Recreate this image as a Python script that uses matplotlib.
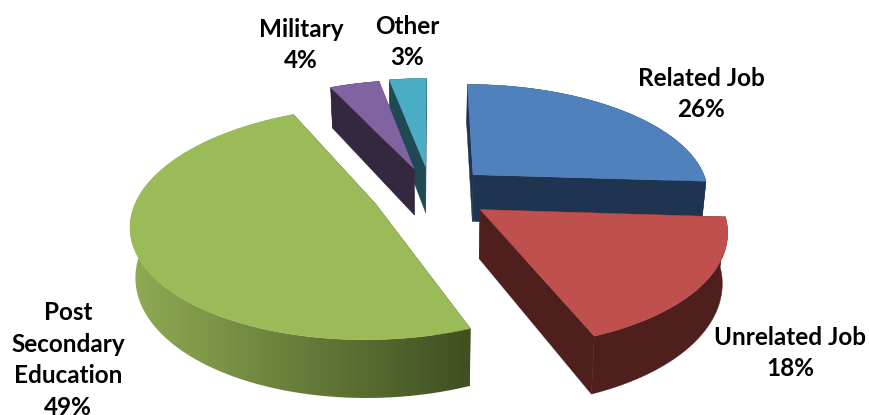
import numpy as np
import matplotlib
matplotlib.use("Agg")
import matplotlib.pyplot as plt
from matplotlib.colors import to_rgb
from matplotlib.patches import Polygon

# share of leavers per destination, clockwise from the top
labels = ["Related Job", "Unrelated Job", "Post\nSecondary\nEducation", "Military", "Other"]
shares = [26, 18, 49, 4, 3]

top_colors = ["#4f81bd", "#c0504d", "#9bbb59", "#8064a2", "#4bacc6"]
cut_colors = ["#1f3450", "#4f1f1e", "#3f4f20", "#34283f", "#1f4a54"]
rim_left = ["#1f3450", "#4f1f1e", "#8fab54", "#34283f", "#1f4a54"]
rim_right = ["#1f3450", "#4f1f1e", "#3f4f20", "#34283f", "#1f4a54"]
explode = [0.25, 0.25, 0.25, 0.24, 0.25]
label_pos = [(701, 94), (790, 353), (68, 360), (301, 45), (407, 42)]

# fake 3d camera, all in pixels
cx, cy = 431, 193
rx, ry = 237, 110
persp = 0.16
depth = 48
shrink = 0.982
draw_order = [4, 3, 0, 2, 1]


def project(X, Y, low=False):
    w = 1 + persp * Y
    x = cx + rx * X / w
    y = cy - ry * Y / w
    if low:
        x = cx + (x - cx) * shrink
        y = y + depth / w
    return np.column_stack([x, y])


fig = plt.figure(figsize=(8.69, 4.15), dpi=100)
ax = fig.add_axes([0, 0, 1, 1])
ax.axis("off")

edges = np.cumsum([0] + shares) / sum(shares) * 2 * np.pi
z = 1

for i in draw_order:
    t0, t1 = edges[i], edges[i + 1]
    mid = (t0 + t1) / 2
    ox = explode[i] * np.sin(mid)
    oy = explode[i] * np.cos(mid)
    t = np.linspace(t0, t1, max(int((t1 - t0) * 60), 4))
    X = ox + np.sin(t)
    Y = oy + np.cos(t)
    hi = project(X, Y)
    lo = project(X, Y, low=True)
    apex_hi = project(np.array([ox]), np.array([oy]))
    apex_lo = project(np.array([ox]), np.array([oy]), low=True)

    # flat cut faces first, the rim goes over them
    for side in (0, -1):
        quad = np.vstack([apex_hi, hi[side], lo[side], apex_lo])
        ax.add_patch(Polygon(quad, closed=True, fc=cut_colors[i], ec=cut_colors[i], lw=0.3, zorder=z))
        z += 1

    rim = np.vstack([hi, lo[::-1]])
    if rim_left[i] == rim_right[i]:
        ax.add_patch(Polygon(rim, closed=True, fc=rim_left[i], ec=rim_left[i], lw=0.3, zorder=z))
    else:
        c0 = np.array(to_rgb(rim_left[i]))
        c1 = np.array(to_rgb(rim_right[i]))
        grad = np.linspace(c0, c1, 256)[None, :, :]
        im = ax.imshow(grad, extent=[rim[:, 0].min(), rim[:, 0].max(), rim[:, 1].max(), rim[:, 1].min()],
                       aspect="auto", zorder=z)
        clip = Polygon(rim, closed=True, transform=ax.transData, fc="none", ec="none")
        ax.add_patch(clip)
        im.set_clip_path(clip)
    z += 1

    ax.add_patch(Polygon(np.vstack([apex_hi, hi]), closed=True, fc=top_colors[i], ec=top_colors[i], lw=0.3, zorder=z))
    z += 1

    ax.text(label_pos[i][0], label_pos[i][1], f"{labels[i]}\n{shares[i]}%", ha="center", va="center",
            family="Lato", weight="bold", size=17.5, color="black", linespacing=1.46, zorder=100)

ax.set_xlim(0, 869)
ax.set_ylim(415, 0)
fig.savefig("out.png", dpi=100)
